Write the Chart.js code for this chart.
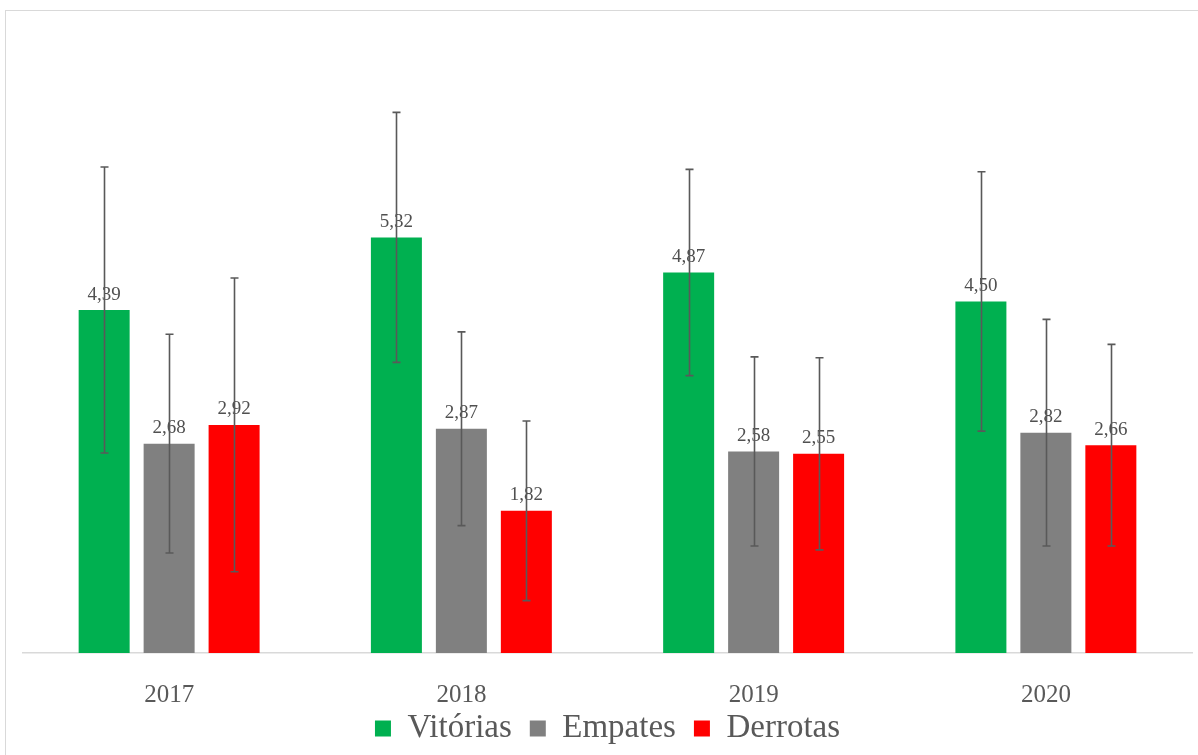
<!DOCTYPE html>
<html>
<head>
<meta charset="utf-8">
<script src="https://cdn.jsdelivr.net/npm/chart.js@4/dist/chart.umd.min.js"></script>
<style>
  html, body { margin: 0; padding: 0; background: #fff; }
  #wrap { position: relative; width: 1198px; height: 755px; overflow: hidden; }
  #frame { position: absolute; left: 5px; top: 10px; width: 1300px; height: 900px;
           border-left: 1.5px solid #d9d9d9; border-top: 1.5px solid #d9d9d9; }
  canvas { position: absolute; left: 0; top: 0; }
</style>
</head>
<body>
<div id="wrap">
  <div id="frame"></div>
  <canvas id="chart" width="1198" height="755"></canvas>
</div>
<script>
/* --------------------------------------------
   Data
-------------------------------------------- */
const years = ["2017", "2018", "2019", "2020"];

const vitorias = [4.39, 5.32, 4.87, 4.50];
const empates = [2.68, 2.87, 2.58, 2.82];
const derrotas = [2.92, 1.82, 2.55, 2.66];

// standard deviations (error bars)
const vitoriasSD = [1.83, 1.6, 1.32, 1.66];
const empatesSD = [1.4, 1.24, 1.21, 1.45];
const derrotasSD = [1.88, 1.15, 1.23, 1.29];

const FONT = "'Liberation Serif', 'Times New Roman', serif";
const fmt = (v) => v.toFixed(2).replace(".", ",");

/* --------------------------------------------
   Plugins: value labels + error bars
-------------------------------------------- */
const labelsAndErrors = {
  id: "labelsAndErrors",
  afterDatasetsDraw(chart) {
    const { ctx } = chart;
    const y = chart.scales.y;

    // value labels
    ctx.save();
    ctx.font = `19px ${FONT}`;
    ctx.fillStyle = "#505050";
    ctx.textAlign = "center";
    ctx.textBaseline = "bottom";
    chart.data.datasets.forEach((ds, i) => {
      chart.getDatasetMeta(i).data.forEach((bar, j) => {
        ctx.fillText(fmt(ds.data[j]), bar.x, bar.y - 6);
      });
    });
    ctx.restore();

    // error bars
    ctx.save();
    ctx.strokeStyle = "#595959";
    ctx.lineWidth = 1.6;
    chart.data.datasets.forEach((ds, i) => {
      chart.getDatasetMeta(i).data.forEach((bar, j) => {
        const v = ds.data[j];
        const sd = ds.sd[j];
        const top = y.getPixelForValue(v + sd);
        const bot = y.getPixelForValue(v - sd);
        const x = Math.round(bar.x) + 0.5;
        ctx.beginPath();
        ctx.moveTo(x, top);
        ctx.lineTo(x, bot);
        ctx.moveTo(x - 4, top);
        ctx.lineTo(x + 4, top);
        ctx.moveTo(x - 4, bot);
        ctx.lineTo(x + 4, bot);
        ctx.stroke();
      });
    });
    ctx.restore();
  },
};

/* --------------------------------------------
   Chart
-------------------------------------------- */
new Chart(document.getElementById("chart"), {
  type: "bar",
  data: {
    labels: years,
    datasets: [
      { label: "Vitórias", data: vitorias, sd: vitoriasSD, backgroundColor: "#00b050" },
      { label: "Empates", data: empates, sd: empatesSD, backgroundColor: "#808080" },
      { label: "Derrotas", data: derrotas, sd: derrotasSD, backgroundColor: "#ff0000" },
    ],
  },
  options: {
    responsive: false,
    animation: false,
    categoryPercentage: 0.667,
    barPercentage: 0.785,
    layout: { padding: { left: 23, right: 6, top: 28, bottom: 0 } },
    plugins: {
      legend: {
        position: "bottom",
        labels: {
          color: "#595959",
          font: { family: FONT, size: 33 },
          boxWidth: 16,
          boxHeight: 16,
          padding: 18,
        },
      },
      tooltip: { enabled: false },
    },
    scales: {
      x: {
        grid: { display: false, drawTicks: false },
        border: { color: "#d9d9d9", width: 1.5 },
        ticks: {
          color: "#595959",
          font: { family: FONT, size: 25 },
          mirror: true,
          padding: -57,
        },
        afterFit: (scale) => {
          scale.height = 41;
        },
      },
      y: {
        display: false,
        min: 0,
        max: 8,
      },
    },
  },
  plugins: [labelsAndErrors],
});
</script>
</body>
</html>
